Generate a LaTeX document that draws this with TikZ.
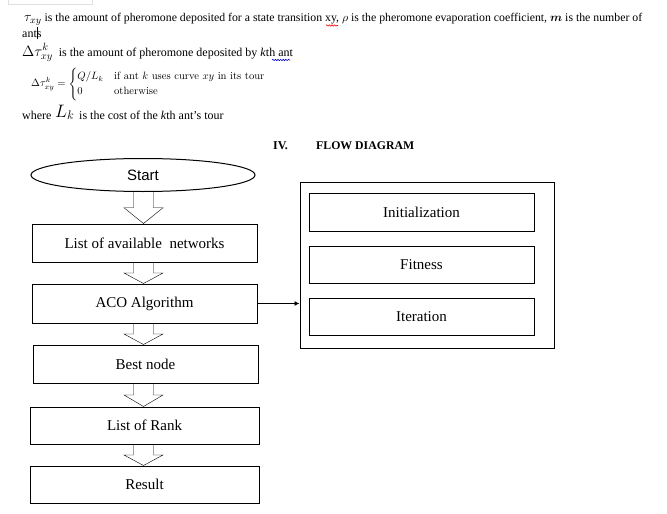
\documentclass[tikz,border=0pt]{standalone}
\usepackage{fix-cm}
\usepackage{amsmath}
\usepackage{fontspec}
\edef\lmdefault{\rmdefault}
\newcommand\lmfont{\fontfamily{\lmdefault}\selectfont}
\setmainfont{Liberation Serif}
\newfontfamily\arialfont{Liberation Sans}
\usetikzlibrary{arrows.meta,calc,shapes.geometric,decorations.pathmorphing}
\tikzset{
  txt/.style={anchor=base west, inner sep=0pt, font=\fontsize{12}{14}\selectfont},
  flowbox/.style={draw, line width=1pt, inner sep=0pt, minimum width=225pt, minimum height=38pt, font=\fontsize{15}{18}\selectfont},
  hollow/.style={line width=1pt, to path={let \p1=(\tikztostart), \p2=(\tikztotarget), \n1={(\y1-\y2)/2} in
     (\x1-10pt,\y1) -- (\x1-10pt,\y2+\n1*1pt) -- (\x1-19.5pt,\y2+\n1*1pt) -- (\x1,\y2)
     -- (\x1+19.5pt,\y2+\n1*1pt) -- (\x1+10pt,\y2+\n1*1pt) -- (\x1+10pt,\y1)}},
  squig/.style={decorate, decoration={snake, amplitude=0.7pt, segment length=2.6pt}, line width=0.6pt}
}
\begin{document}
\begin{tikzpicture}[x=1pt,y=-1pt]
\useasboundingbox[fill=white] (0,0) rectangle (667,514);
% faint frame at top-left
\draw[black!12, line width=0.6pt] (8,0) -- (8,4) -- (92,4) -- (92,0);
% top text
\node[txt, font=\fontsize{11.8}{14}\selectfont] (l1) at (24,21) {{\fontsize{14}{14}\selectfont$\tau_{xy}$} is the amount of pheromone deposited for a state transition xy, $\rho$ is the pheromone evaporation coefficient, $\boldsymbol{m}$ is the number of};
\node[txt] (l2) at (22,37) {ants};
\draw[line width=0.5pt] (37.3,27) -- (37.3,39);
\node[txt] (l3) at (22,56) {{\fontsize{15}{15}\selectfont$\Delta\tau^k_{xy}$}\ \ is the amount of pheromone deposited by \textit{k}th ant};
\node[anchor=west, inner sep=0pt, font=\fontsize{10.6}{12.5}\selectfont] (eq) at (31,84) {$\Delta\tau^k_{xy} = \begin{cases} Q/L_k & \text{\lmfont if ant $k$ uses curve $xy$ in its tour}\\ 0 & \text{\lmfont otherwise}\end{cases}$};
\node[txt] (w1) at (22,119) {where};
\node[txt, font=\fontsize{18}{18}\selectfont] (lk) at (55,117) {$L_k$};
\node[txt] (w2) at (79,119) {is the cost of the \textit{k}th ant's tour};
\draw[red, squig] (326,25.5) -- (338,25.5);
\draw[blue!80!black, squig] (272,60) -- (290,60);
% heading
\node[txt, font=\fontsize{12}{14}\selectfont\bfseries] (h1) at (273,149) {IV.};
\node[txt, font=\fontsize{11.8}{14}\selectfont\bfseries] (h2) at (316,149) {FLOW DIAGRAM};
% left column
\coordinate (ax) at (143.5,0);
\node[draw, ellipse, line width=1pt, inner sep=0pt, minimum width=224pt, minimum height=33pt, font=\arialfont\fontsize{15}{18}\selectfont] (start) at (143,175) {Start};
\node[flowbox] (nets) at (144.5,243) {List of available\ \ networks};
\node[flowbox, minimum height=39pt] (aco) at (144.5,303.5) {ACO Algorithm};
\node[flowbox] (best) at (145.5,364) {Best node};
\node[flowbox, minimum width=229pt, minimum height=37pt] (rank) at (144.5,425.5) {List of Rank};
\node[flowbox, minimum width=229pt, minimum height=37pt] (res) at (144.5,484.5) {Result};
\draw (start.south -| ax) to[hollow] (nets.north -| ax);
\draw (nets.south -| ax) to[hollow] (aco.north -| ax);
\draw (aco.south -| ax) to[hollow] (best.north -| ax);
\draw (best.south -| ax) to[hollow] (rank.north -| ax);
\draw (rank.south -| ax) to[hollow] (res.north -| ax);
% right block
\node[draw, line width=1pt, inner sep=0pt, minimum width=254pt, minimum height=166pt] (outer) at (427,265) {};
\node[flowbox, minimum height=38pt] (init) at (421.5,212) {Initialization};
\node[flowbox, minimum height=37pt] (fit) at (421.5,264.5) {Fitness};
\node[flowbox, minimum height=37pt] (iter) at (421.5,316.5) {Iteration};
\draw[line width=0.9pt, -{Latex[length=5pt,width=5pt]}] (aco.east) -- (aco.east -| outer.west);
\end{tikzpicture}
\end{document}
